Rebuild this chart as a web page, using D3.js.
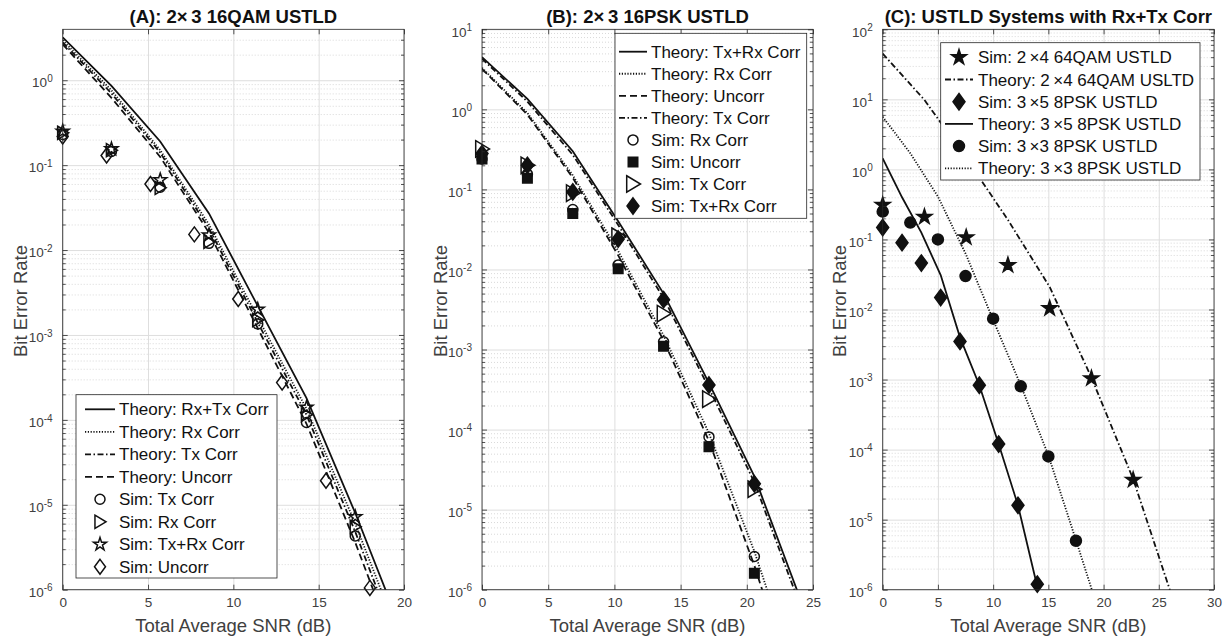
<!DOCTYPE html>
<html><head><meta charset="utf-8">
<script src="https://cdn.jsdelivr.net/npm/d3@7"></script>
<style>
body{margin:0;background:#fff;}
svg{font-family:"Liberation Sans",Arial,Helvetica,sans-serif;}
</style></head><body>
<svg id="chart" width="1227" height="640"></svg>
<script>
// ---------- Panel A: 2x3 16QAM USTLD ----------
const snrTheoryA = [0, 2.857, 5.714, 8.571, 11.429, 14.286, 17.143, 20];
const theoryA_RxTx = [3.2, 0.86, 0.19, 0.027, 0.0022, 1.8e-4, 8.0e-6, 2.8e-7];
const theoryA_Rx = [2.95, 0.76, 0.15, 0.020, 0.0016, 1.35e-4, 6.0e-6, 2.0e-7];
const theoryA_Tx = [2.8, 0.70, 0.14, 0.018, 0.0014, 1.15e-4, 4.8e-6, 1.5e-7];
const theoryA_Uncorr = [2.65, 0.62, 0.125, 0.016, 0.0012, 9.0e-5, 3.6e-6, 1.1e-7];
const snrSimA = [0, 2.857, 5.714, 8.571, 11.429, 14.286, 17.143];
const simA_Tx = [0.23, 0.145, 0.055, 0.012, 1.35e-3, 9.3e-5, 4.3e-6];
const simA_Rx = [0.24, 0.15, 0.054, 0.0125, 1.5e-3, 1.15e-4, 5.5e-6];
const simA_TxRx = [0.25, 0.155, 0.067, 0.015, 2.0e-3, 1.4e-4, 7.2e-6];
const snrSimA_Uncorr = [0, 2.571, 5.143, 7.714, 10.286, 12.857, 15.429, 18];
const simA_Uncorr = [0.217, 0.13, 0.06, 0.0153, 2.65e-3, 2.75e-4, 1.92e-5, 1.05e-6];

// ---------- Panel B: 2x3 16PSK USTLD ----------
const snrTheoryB = [0, 3.429, 6.857, 10.286, 13.714, 17.143, 20.571, 24];
const theoryB_TxRx = [4.5, 1.35, 0.30, 0.040, 5.0e-3, 3.8e-4, 2.6e-5, 8e-7];
const theoryB_Rx = [3.3, 0.90, 0.15, 0.017, 1.5e-3, 9e-5, 3.0e-6, 6e-8];
const theoryB_Uncorr = [3.2, 0.86, 0.14, 0.015, 1.3e-3, 7.2e-5, 2.0e-6, 3.5e-8];
const theoryB_Tx = [4.3, 1.25, 0.27, 0.036, 4.4e-3, 3.3e-4, 2.2e-5, 6.5e-7];
const snrSimB = [0, 3.429, 6.857, 10.286, 13.714, 17.143, 20.571];
const simB_Rx = [0.24, 0.155, 0.056, 0.0114, 1.25e-3, 8.1e-5, 2.6e-6];
const simB_Uncorr = [0.24, 0.138, 0.05, 0.0102, 1.1e-3, 6.1e-5, 1.6e-6];
const simB_Tx = [0.32, 0.2, 0.09, 0.026, 2.8e-3, 2.4e-4, 1.8e-5];
const simB_TxRx = [0.28, 0.2, 0.093, 0.024, 4.2e-3, 3.6e-4, 2.1e-5];

// ---------- Panel C: USTLD systems with Rx+Tx correlation ----------
const snrTheoryC_64QAM = [0, 3.78, 7.56, 11.34, 15.12, 18.9, 22.68, 26.46];
const theoryC_64QAM = [45, 9.8, 1.45, 0.19, 0.021, 1.07e-3, 3.8e-5, 6e-7];
const snrSimC_64QAM = [0, 3.78, 7.56, 11.34, 15.12, 18.9, 22.68];
const simC_64QAM = [0.31, 0.21, 0.107, 0.043, 0.0104, 1.04e-3, 3.7e-5];
const snrC_3x5 = [0, 1.75, 3.5, 5.25, 7, 8.75, 10.5, 12.25, 14];
const simC_3x5 = [0.148, 0.09, 0.046, 0.0148, 3.5e-3, 8.3e-4, 1.2e-4, 1.6e-5, 1.2e-6];
const theoryC_3x5 = [1.44, 0.4, 0.125, 0.031, 4.0e-3, 8.3e-4, 1.2e-4, 1.6e-5, 1.1e-6];
const snrTheoryC_3x3 = [0, 2.5, 5, 7.5, 10, 12.5, 15, 17.5, 20];
const theoryC_3x3 = [5.65, 1.7, 0.41, 0.063, 7.1e-3, 8.3e-4, 8.3e-5, 5.1e-6, 3e-7];
const snrSimC_3x3 = [0, 2.5, 5, 7.5, 10, 12.5, 15, 17.5];
const simC_3x3 = [0.25, 0.174, 0.1, 0.03, 7.4e-3, 8.0e-4, 8.0e-5, 5e-6];

// Axis tick values
const xTicksA = [0, 5, 10, 15, 20];
const xTicksB = [0, 5, 10, 15, 20, 25];
const xTicksC = [0, 5, 10, 15, 20, 25, 30];

const svg = d3.select('#chart');
const axisColor = '#262626';
const labelColor = '#404040';

// line dash styles
const dashStyle = {
  solid: null,
  dotted: '1.2,1.6',
  dashed: '7,4',
  dashdot: '6,2.5,1.5,2.5'
};

// marker path generators (centered at origin)
function markerPath(shape, s) {
  switch (shape) {
    case 'circle': return d3.symbol(d3.symbolCircle, Math.PI * s * s / 4)();
    case 'square': return `M${-s/2},${-s/2}H${s/2}V${s/2}H${-s/2}Z`;
    case 'diamond': return `M0,${-s*0.68}L${s*0.5},0L0,${s*0.68}L${-s*0.5},0Z`;
    case 'triRight': return `M${-s*0.42},${-s*0.55}L${s*0.5},0L${-s*0.42},${s*0.55}Z`;
    case 'star': {
      const R = s / 1.9;
      return d3.symbol(d3.symbolStar, R * R / 0.8908130915)();
    }
  }
}

function drawPanel(cfg) {
  const x = d3.scaleLinear().domain([0, cfg.xMax]).range([cfg.left, cfg.right]);
  const y = d3.scaleLog().domain([cfg.yMin, cfg.yMax]).range([cfg.bottom, cfg.top]);
  const w = cfg.right - cfg.left, h = cfg.bottom - cfg.top;
  const g = svg.append('g');

  const lo = Math.round(Math.log10(cfg.yMin)), hi = Math.ceil(Math.log10(cfg.yMax));
  const majors = d3.range(lo, hi + 1).map(k => Math.pow(10, k)).filter(v => v <= cfg.yMax * 1.0001);
  const minors = [];
  for (let k = lo; k <= hi; k++) for (let m = 2; m <= 9; m++) {
    const v = m * Math.pow(10, k);
    if (v > cfg.yMin && v < cfg.yMax) minors.push(v);
  }

  // minor y grid (dotted)
  g.append('g').attr('transform', `translate(${cfg.left},0)`)
    .call(d3.axisLeft(y).tickValues(minors).tickSize(-w).tickFormat(''))
    .call(a => a.select('.domain').remove())
    .selectAll('line').attr('stroke', '#c8c8c8').attr('stroke-width', 0.7).attr('stroke-dasharray', '1,2');
  // major y grid
  g.append('g').attr('transform', `translate(${cfg.left},0)`)
    .call(d3.axisLeft(y).tickValues(majors).tickSize(-w).tickFormat(''))
    .call(a => a.select('.domain').remove())
    .selectAll('line').attr('stroke', '#dedede').attr('stroke-width', 1);
  // major x grid
  g.append('g').attr('transform', `translate(0,${cfg.bottom})`)
    .call(d3.axisBottom(x).tickValues(cfg.xTicks).tickSize(-h).tickFormat(''))
    .call(a => a.select('.domain').remove())
    .selectAll('line').attr('stroke', '#dedede').attr('stroke-width', 1);

  // clip area for data
  const clipId = 'clip-' + cfg.key;
  svg.append('clipPath').attr('id', clipId).append('rect')
    .attr('x', cfg.left).attr('y', cfg.top).attr('width', w).attr('height', h);
  const plot = g.append('g').attr('clip-path', `url(#${clipId})`);

  const line = d3.line().x(d => x(d[0])).y(d => y(d[1]));
  cfg.lines.forEach(s => {
    plot.append('path').datum(d3.zip(s.x, s.y))
      .attr('d', line).attr('fill', 'none').attr('stroke', '#111')
      .attr('stroke-width', s.width || 1.8)
      .attr('stroke-dasharray', dashStyle[s.style]);
  });
  const markLayer = g.append('g');
  cfg.markers.forEach(s => {
    markLayer.selectAll(null).data(d3.zip(s.x, s.y)).join('path')
      .attr('transform', d => `translate(${x(d[0])},${y(d[1])})`)
      .attr('d', markerPath(s.shape, s.size))
      .attr('fill', s.filled ? '#111' : 'none')
      .attr('stroke', '#111').attr('stroke-width', 1.5);
  });

  // axes (ticks inward on all four sides)
  const styleAxis = a => {
    a.select('.domain').remove();
    a.selectAll('line').attr('stroke', axisColor).attr('stroke-width', 0.8);
    a.selectAll('text').attr('fill', labelColor).style('font-size', '13.5px')
      .style('font-family', '"Liberation Sans",Arial,sans-serif');
  };
  g.append('g').attr('transform', `translate(0,${cfg.bottom})`)
    .call(d3.axisBottom(x).tickValues(cfg.xTicks).tickSizeInner(-5).tickSizeOuter(0).tickPadding(8).tickFormat(d3.format('d')))
    .call(styleAxis);
  g.append('g').attr('transform', `translate(0,${cfg.top})`)
    .call(d3.axisTop(x).tickValues(cfg.xTicks).tickSizeInner(-5).tickSizeOuter(0).tickFormat(''))
    .call(styleAxis);
  const yl = g.append('g').attr('transform', `translate(${cfg.left},0)`)
    .call(d3.axisLeft(y).tickValues(majors).tickSizeInner(-5).tickSizeOuter(0).tickFormat(''))
    .call(styleAxis);
  // "10" with superscript exponent
  yl.selectAll('.tick').append('text')
    .attr('x', -10).attr('dy', '0.5em').attr('text-anchor', 'end')
    .attr('fill', labelColor).style('font-size', '13.5px')
    .each(function (d) {
      const t = d3.select(this);
      t.append('tspan').text('10');
      t.append('tspan').attr('dy', '-0.55em').style('font-size', '10px').text(String(Math.round(Math.log10(d))));
    });
  g.append('g').attr('transform', `translate(${cfg.right},0)`)
    .call(d3.axisRight(y).tickValues(majors).tickSizeInner(-5).tickSizeOuter(0).tickFormat(''))
    .call(styleAxis);
  g.append('g').attr('transform', `translate(${cfg.left},0)`)
    .call(d3.axisLeft(y).tickValues(minors).tickSizeInner(-3).tickSizeOuter(0).tickFormat(''))
    .call(styleAxis);
  g.append('g').attr('transform', `translate(${cfg.right},0)`)
    .call(d3.axisRight(y).tickValues(minors).tickSizeInner(-3).tickSizeOuter(0).tickFormat(''))
    .call(styleAxis);
  // box
  g.append('rect').attr('x', cfg.left).attr('y', cfg.top).attr('width', w).attr('height', h)
    .attr('fill', 'none').attr('stroke', axisColor).attr('stroke-width', 0.8);

  // title
  g.append('text').attr('x', (cfg.left + cfg.right) / 2).attr('y', 23)
    .attr('text-anchor', 'middle').style('font-size', '18.5px').style('font-weight', 'bold')
    .attr('fill', '#111').text(cfg.title);
  // axis labels
  g.append('text').attr('x', (cfg.left + cfg.right) / 2).attr('y', 632)
    .attr('text-anchor', 'middle').style('font-size', '18.5px').attr('fill', labelColor)
    .text('Total Average SNR (dB)');
  g.append('text').attr('transform', `translate(${cfg.yLabelX},301) rotate(-90)`)
    .attr('text-anchor', 'middle').style('font-size', '18.5px').attr('fill', labelColor)
    .text('Bit Error Rate');

  // legend
  const L = cfg.legend;
  const lg = g.append('g');
  lg.append('rect').attr('x', L.x0).attr('y', L.y0).attr('width', L.x1 - L.x0).attr('height', L.y1 - L.y0)
    .attr('fill', '#fff').attr('stroke', axisColor).attr('stroke-width', 0.8);
  L.items.forEach((it, i) => {
    const cy = L.row0 + i * L.step;
    if (it.line) {
      lg.append('line').attr('x1', L.lx0).attr('x2', L.lx1).attr('y1', cy).attr('y2', cy)
        .attr('stroke', '#111').attr('stroke-width', 1.8).attr('stroke-dasharray', dashStyle[it.line]);
    } else {
      lg.append('path').attr('transform', `translate(${(L.lx0 + L.lx1) / 2},${cy})`)
        .attr('d', markerPath(it.shape, it.size))
        .attr('fill', it.filled ? '#111' : 'none').attr('stroke', '#111').attr('stroke-width', 1.5);
    }
    lg.append('text').attr('x', L.tx).attr('y', cy).attr('dy', '0.36em')
      .style('font-size', '17px').attr('fill', '#111').text(it.label);
  });
}

// Panel A
drawPanel({
  key: 'A', left: 62.7, right: 404, top: 29.3, bottom: 589.7,
  xMax: 20, xTicks: xTicksA, yMin: 1e-6, yMax: 3.98, yLabelX: 27,
  title: '(A): 2\u00d7\u20093 16QAM USTLD',
  lines: [
    { x: snrTheoryA, y: theoryA_RxTx, style: 'solid' },
    { x: snrTheoryA, y: theoryA_Rx, style: 'dotted' },
    { x: snrTheoryA, y: theoryA_Tx, style: 'dashdot' },
    { x: snrTheoryA, y: theoryA_Uncorr, style: 'dashed' }
  ],
  markers: [
    { x: snrSimA, y: simA_Tx, shape: 'circle', size: 10 },
    { x: snrSimA, y: simA_Rx, shape: 'triRight', size: 12 },
    { x: snrSimA, y: simA_TxRx, shape: 'star', size: 13 },
    { x: snrSimA_Uncorr, y: simA_Uncorr, shape: 'diamond', size: 11 }
  ],
  legend: {
    x0: 76, x1: 277, y0: 394.7, y1: 578, row0: 409.3, step: 22.5, lx0: 85, lx1: 115, tx: 119,
    items: [
      { line: 'solid', label: 'Theory: Rx+Tx Corr' },
      { line: 'dotted', label: 'Theory: Rx Corr' },
      { line: 'dashdot', label: 'Theory: Tx Corr' },
      { line: 'dashed', label: 'Theory: Uncorr' },
      { shape: 'circle', size: 10, label: 'Sim: Tx Corr' },
      { shape: 'triRight', size: 12, label: 'Sim: Rx Corr' },
      { shape: 'star', size: 13, label: 'Sim: Tx+Rx Corr' },
      { shape: 'diamond', size: 11, label: 'Sim: Uncorr' }
    ]
  }
});

// Panel B
drawPanel({
  key: 'B', left: 482, right: 813, top: 29.3, bottom: 589.7,
  xMax: 25, xTicks: xTicksB, yMin: 1e-6, yMax: 10, yLabelX: 447,
  title: '(B): 2\u00d7\u20093 16PSK USTLD',
  lines: [
    { x: snrTheoryB, y: theoryB_TxRx, style: 'solid' },
    { x: snrTheoryB, y: theoryB_Rx, style: 'dotted' },
    { x: snrTheoryB, y: theoryB_Uncorr, style: 'dashed' },
    { x: snrTheoryB, y: theoryB_Tx, style: 'dashdot' }
  ],
  markers: [
    { x: snrSimB, y: simB_Rx, shape: 'circle', size: 10 },
    { x: snrSimB, y: simB_Uncorr, shape: 'square', size: 9.5, filled: true },
    { x: snrSimB, y: simB_Tx, shape: 'triRight', size: 15 },
    { x: snrSimB, y: simB_TxRx, shape: 'diamond', size: 12, filled: true }
  ],
  legend: {
    x0: 615, x1: 806.7, y0: 33.3, y1: 218.3, row0: 51.7, step: 22.05, lx0: 619, lx1: 647, tx: 651,
    items: [
      { line: 'solid', label: 'Theory: Tx+Rx Corr' },
      { line: 'dotted', label: 'Theory: Rx Corr' },
      { line: 'dashed', label: 'Theory: Uncorr' },
      { line: 'dashdot', label: 'Theory: Tx Corr' },
      { shape: 'circle', size: 10, label: 'Sim: Rx Corr' },
      { shape: 'square', size: 9.5, filled: true, label: 'Sim: Uncorr' },
      { shape: 'triRight', size: 15, label: 'Sim: Tx Corr' },
      { shape: 'diamond', size: 12, filled: true, label: 'Sim: Tx+Rx Corr' }
    ]
  }
});

// Panel C
drawPanel({
  key: 'C', left: 882.7, right: 1214, top: 29.3, bottom: 589.7,
  xMax: 30, xTicks: xTicksC, yMin: 1e-6, yMax: 100, yLabelX: 846,
  title: '(C): USTLD Systems with Rx+Tx Corr',
  lines: [
    { x: snrTheoryC_64QAM, y: theoryC_64QAM, style: 'dashdot' },
    { x: snrC_3x5, y: theoryC_3x5, style: 'solid' },
    { x: snrTheoryC_3x3, y: theoryC_3x3, style: 'dotted' }
  ],
  markers: [
    { x: snrSimC_64QAM, y: simC_64QAM, shape: 'star', size: 15, filled: true },
    { x: snrC_3x5, y: simC_3x5, shape: 'diamond', size: 12, filled: true },
    { x: snrSimC_3x3, y: simC_3x3, shape: 'circle', size: 11, filled: true }
  ],
  legend: {
    x0: 940.7, x1: 1200, y0: 42.7, y1: 180, row0: 57.3, step: 22.2, lx0: 945, lx1: 973, tx: 978,
    items: [
      { shape: 'star', size: 15, filled: true, label: 'Sim: 2\u2009\u00d74 64QAM USTLD' },
      { line: 'dashdot', label: 'Theory: 2\u2009\u00d74 64QAM USLTD' },
      { shape: 'diamond', size: 12, filled: true, label: 'Sim: 3\u2009\u00d75 8PSK USTLD' },
      { line: 'solid', label: 'Theory: 3\u2009\u00d75 8PSK USTLD' },
      { shape: 'circle', size: 11, filled: true, label: 'Sim: 3\u2009\u00d73 8PSK USTLD' },
      { line: 'dotted', label: 'Theory: 3\u2009\u00d73 8PSK USTLD' }
    ]
  }
});
</script>
</body></html>
